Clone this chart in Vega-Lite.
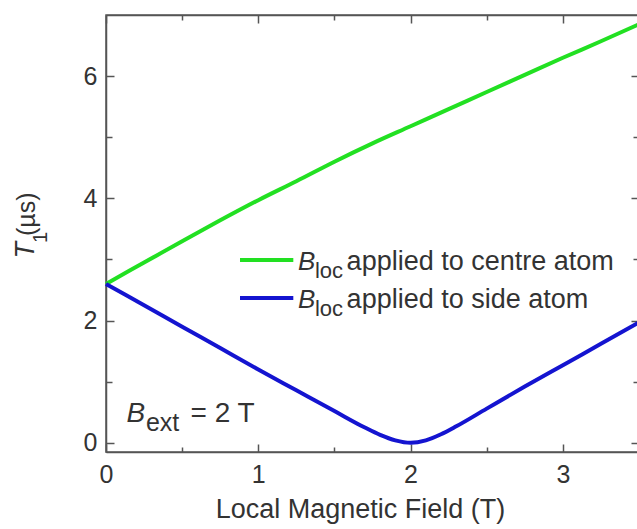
{
  "$schema": "https://vega.github.io/schema/vega-lite/v6.json",
  "width": 533,
  "height": 437,
  "autosize": {"type": "none"},
  "padding": {"left": 106, "top": 15, "right": 0, "bottom": 77},
  "background": "white",
  "config": {
    "font": "Liberation Sans",
    "view": {"stroke": "#555555", "strokeWidth": 1.5},
    "axis": {
      "domainColor": "#555555", "domainWidth": 1.5,
      "tickColor": "#555555", "tickWidth": 1.5,
      "grid": false,
      "labelColor": "#333333", "titleColor": "#333333",
      "labelFont": "Liberation Sans", "titleFont": "Liberation Sans",
      "labelFontSize": 25, "titleFontSize": 27, "titleFontWeight": "normal",
      "labelFlush": false, "labelOverlap": false
    }
  },
  "datasets": {
    "curves": [
      {"series": "centre", "field": 0, "t1": 2.6},
      {"series": "centre", "field": 0.25, "t1": 2.95},
      {"series": "centre", "field": 0.5, "t1": 3.3},
      {"series": "centre", "field": 0.75, "t1": 3.64},
      {"series": "centre", "field": 1.0, "t1": 3.97},
      {"series": "centre", "field": 1.25, "t1": 4.28},
      {"series": "centre", "field": 1.5, "t1": 4.6},
      {"series": "centre", "field": 1.75, "t1": 4.9},
      {"series": "centre", "field": 2.0, "t1": 5.18},
      {"series": "centre", "field": 2.25, "t1": 5.46},
      {"series": "centre", "field": 2.5, "t1": 5.74},
      {"series": "centre", "field": 2.75, "t1": 6.02},
      {"series": "centre", "field": 3.0, "t1": 6.3},
      {"series": "centre", "field": 3.25, "t1": 6.57},
      {"series": "centre", "field": 3.5, "t1": 6.85},
      {"series": "side", "field": 0, "t1": 2.6},
      {"series": "side", "field": 0.25, "t1": 2.25},
      {"series": "side", "field": 0.5, "t1": 1.9},
      {"series": "side", "field": 0.75, "t1": 1.55},
      {"series": "side", "field": 1.0, "t1": 1.2},
      {"series": "side", "field": 1.25, "t1": 0.86},
      {"series": "side", "field": 1.5, "t1": 0.52},
      {"series": "side", "field": 1.7, "t1": 0.25},
      {"series": "side", "field": 1.8, "t1": 0.13},
      {"series": "side", "field": 1.9, "t1": 0.04},
      {"series": "side", "field": 2.0, "t1": 0.0},
      {"series": "side", "field": 2.1, "t1": 0.04},
      {"series": "side", "field": 2.2, "t1": 0.14},
      {"series": "side", "field": 2.3, "t1": 0.27},
      {"series": "side", "field": 2.5, "t1": 0.56},
      {"series": "side", "field": 2.75, "t1": 0.92},
      {"series": "side", "field": 3.0, "t1": 1.27},
      {"series": "side", "field": 3.25, "t1": 1.62},
      {"series": "side", "field": 3.5, "t1": 1.97}
    ]
  },
  "resolve": {"axis": {"x": "independent", "y": "independent"}},
  "layer": [
    {
      "data": {"name": "curves"},
      "mark": {"type": "line", "strokeWidth": 4, "interpolate": "monotone"},
      "encoding": {
        "x": {
          "field": "field", "type": "quantitative",
          "scale": {"domain": [0, 3.5], "nice": false, "zero": false},
          "axis": {
            "orient": "bottom",
            "values": [0, 0.5, 1, 1.5, 2, 2.5, 3, 3.5],
            "labelExpr": "datum.value % 1 === 0 ? format(datum.value, 'd') : ''",
            "tickSize": {"condition": {"test": "datum.value % 1 === 0", "value": -8}, "value": -5},
            "labelPadding": 18,
            "title": "Local Magnetic Field (T)",
            "titlePadding": 6,
            "titleX": 254
          }
        },
        "y": {
          "field": "t1", "type": "quantitative",
          "scale": {"domain": [-0.15, 7], "nice": false, "zero": false},
          "axis": {
            "orient": "left",
            "values": [0, 1, 2, 3, 4, 5, 6],
            "labelExpr": "datum.value % 2 === 0 ? format(datum.value, 'd') : ''",
            "tickSize": {"condition": {"test": "datum.value % 2 === 0", "value": -8}, "value": -6},
            "labelPadding": 17,
            "title": null
          }
        },
        "color": {
          "field": "series", "type": "nominal",
          "scale": {"domain": ["centre", "side"], "range": ["#22e022", "#1414d0"]},
          "legend": null
        }
      }
    },
    {
      "data": {"name": "curves"},
      "mark": {"type": "point", "opacity": 0},
      "encoding": {
        "x": {
          "field": "field", "type": "quantitative",
          "axis": {
            "orient": "top",
            "values": [0, 0.5, 1, 1.5, 2, 2.5, 3, 3.5],
            "labels": false,
            "tickSize": {"condition": {"test": "datum.value % 1 === 0", "value": -8}, "value": -5},
            "title": null
          }
        },
        "y": {
          "field": "t1", "type": "quantitative",
          "axis": {
            "orient": "right",
            "values": [0, 1, 2, 3, 4, 5, 6],
            "labels": false,
            "tickSize": {"condition": {"test": "datum.value % 2 === 0", "value": -8}, "value": -6},
            "title": null
          }
        }
      }
    },
    {
      "data": {"values": [{}]},
      "mark": {"type": "rule", "strokeWidth": 4, "color": "#22e022"},
      "encoding": {
        "x": {"datum": 0.88, "type": "quantitative", "axis": null},
        "x2": {"datum": 1.23},
        "y": {"datum": 2.99, "type": "quantitative", "axis": null}
      }
    },
    {
      "data": {"values": [{}]},
      "mark": {"type": "rule", "strokeWidth": 4, "color": "#1414d0"},
      "encoding": {
        "x": {"datum": 0.88, "type": "quantitative", "axis": null},
        "x2": {"datum": 1.23},
        "y": {"datum": 2.37, "type": "quantitative", "axis": null}
      }
    },
    {
      "data": {"values": [{}]},
      "mark": {"type": "text", "text": "B", "fontStyle": "italic", "fontSize": 26, "align": "left", "baseline": "alphabetic", "color": "#333333"},
      "encoding": {
        "x": {"datum": 1.26, "type": "quantitative", "axis": null},
        "y": {"datum": 2.83, "type": "quantitative", "axis": null}
      }
    },
    {
      "data": {"values": [{}]},
      "mark": {"type": "text", "text": "loc", "fontSize": 22, "align": "left", "baseline": "alphabetic", "color": "#333333"},
      "encoding": {
        "x": {"datum": 1.372, "type": "quantitative", "axis": null},
        "y": {"datum": 2.69, "type": "quantitative", "axis": null}
      }
    },
    {
      "data": {"values": [{}]},
      "mark": {"type": "text", "text": "applied to centre atom", "fontSize": 27, "align": "left", "baseline": "alphabetic", "color": "#333333"},
      "encoding": {
        "x": {"datum": 1.58, "type": "quantitative", "axis": null},
        "y": {"datum": 2.83, "type": "quantitative", "axis": null}
      }
    },
    {
      "data": {"values": [{}]},
      "mark": {"type": "text", "text": "B", "fontStyle": "italic", "fontSize": 26, "align": "left", "baseline": "alphabetic", "color": "#333333"},
      "encoding": {
        "x": {"datum": 1.26, "type": "quantitative", "axis": null},
        "y": {"datum": 2.21, "type": "quantitative", "axis": null}
      }
    },
    {
      "data": {"values": [{}]},
      "mark": {"type": "text", "text": "loc", "fontSize": 22, "align": "left", "baseline": "alphabetic", "color": "#333333"},
      "encoding": {
        "x": {"datum": 1.372, "type": "quantitative", "axis": null},
        "y": {"datum": 2.07, "type": "quantitative", "axis": null}
      }
    },
    {
      "data": {"values": [{}]},
      "mark": {"type": "text", "text": "applied to side atom", "fontSize": 27, "align": "left", "baseline": "alphabetic", "color": "#333333"},
      "encoding": {
        "x": {"datum": 1.58, "type": "quantitative", "axis": null},
        "y": {"datum": 2.21, "type": "quantitative", "axis": null}
      }
    },
    {
      "data": {"values": [{}]},
      "mark": {"type": "text", "text": "B", "fontStyle": "italic", "fontSize": 28, "align": "left", "baseline": "alphabetic", "color": "#333333"},
      "encoding": {
        "x": {"datum": 0.135, "type": "quantitative", "axis": null},
        "y": {"datum": 0.34, "type": "quantitative", "axis": null}
      }
    },
    {
      "data": {"values": [{}]},
      "mark": {"type": "text", "text": "ext", "fontSize": 25, "align": "left", "baseline": "alphabetic", "color": "#333333"},
      "encoding": {
        "x": {"datum": 0.262, "type": "quantitative", "axis": null},
        "y": {"datum": 0.19, "type": "quantitative", "axis": null}
      }
    },
    {
      "data": {"values": [{}]},
      "mark": {"type": "text", "text": "= 2 T", "fontSize": 28, "align": "left", "baseline": "alphabetic", "color": "#333333"},
      "encoding": {
        "x": {"datum": 0.555, "type": "quantitative", "axis": null},
        "y": {"datum": 0.34, "type": "quantitative", "axis": null}
      }
    },
    {
      "data": {"values": [{}]},
      "mark": {"type": "text", "text": "T", "fontStyle": "italic", "fontSize": 27, "angle": 270, "align": "center", "baseline": "middle", "color": "#333333"},
      "encoding": {
        "x": {"datum": -0.525, "type": "quantitative", "axis": null},
        "y": {"datum": 3.15, "type": "quantitative", "axis": null}
      }
    },
    {
      "data": {"values": [{}]},
      "mark": {"type": "text", "text": "1", "fontSize": 20, "angle": 270, "align": "center", "baseline": "middle", "color": "#333333"},
      "encoding": {
        "x": {"datum": -0.43, "type": "quantitative", "axis": null},
        "y": {"datum": 3.36, "type": "quantitative", "axis": null}
      }
    },
    {
      "data": {"values": [{}]},
      "mark": {"type": "text", "text": "(µs)", "fontSize": 25, "angle": 270, "align": "center", "baseline": "middle", "color": "#333333"},
      "encoding": {
        "x": {"datum": -0.52, "type": "quantitative", "axis": null},
        "y": {"datum": 3.74, "type": "quantitative", "axis": null}
      }
    }
  ]
}
